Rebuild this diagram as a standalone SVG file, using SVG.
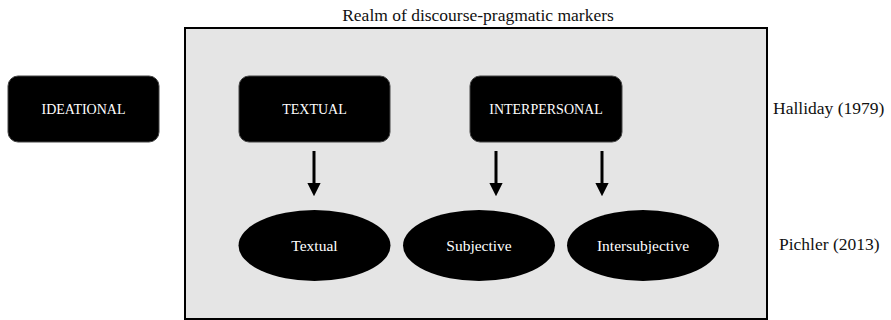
<svg xmlns="http://www.w3.org/2000/svg" width="891" height="320" viewBox="0 0 891 320">
<style>
.box{fill:#000;stroke:#444;stroke-width:1}
.ell{fill:#000}
.bt{font-family:"Liberation Serif",serif;font-size:14px;fill:#fff;text-anchor:middle}
.et{font-family:"Liberation Serif",serif;font-size:15.5px;fill:#fff;text-anchor:middle}
.lab{font-family:"Liberation Serif",serif;font-size:17.5px;fill:#111}
.conn line{stroke:#000;stroke-width:3}
</style>
<defs>
<marker id="ah" markerWidth="4.4" markerHeight="4.4" refX="1" refY="2.2" orient="auto" markerUnits="strokeWidth">
<path d="M0,0 L4.4,2.2 L0,4.4 Z" fill="#000"/>
</marker>
</defs>
<rect width="891" height="320" fill="#fff"/>
<g id="realm">
<rect x="185" y="28" width="582" height="291" fill="#e5e5e5" stroke="#000" stroke-width="2"/>
<text x="478" y="21" class="lab" text-anchor="middle">Realm of discourse-pragmatic markers</text>
</g>
<g id="ideational"><rect class="box" x="8" y="76" width="151" height="66" rx="10"/><text class="bt" x="83.5" y="113.5">IDEATIONAL</text></g>
<g id="textual-box"><rect class="box" x="239" y="76" width="151" height="66" rx="10"/><text class="bt" x="314.5" y="113.5">TEXTUAL</text></g>
<g id="interpersonal"><rect class="box" x="470" y="76" width="152" height="66" rx="10"/><text class="bt" x="546" y="113.5">INTERPERSONAL</text></g>
<g id="textual-ell"><ellipse class="ell" cx="314.5" cy="245.5" rx="76" ry="35.5"/><text class="et" x="314.5" y="251">Textual</text></g>
<g id="subjective"><ellipse class="ell" cx="479" cy="245.5" rx="76" ry="35.5"/><text class="et" x="479" y="251">Subjective</text></g>
<g id="intersubjective"><ellipse class="ell" cx="643" cy="245.5" rx="76" ry="35.5"/><text class="et" x="643" y="251">Intersubjective</text></g>
<g id="halliday"><text class="lab" x="773" y="114">Halliday (1979)</text></g>
<g id="pichler"><text class="lab" x="779" y="250">Pichler (2013)</text></g>
<g class="conn">
<line x1="314" y1="151" x2="314" y2="186" marker-end="url(#ah)"/>
<line x1="496" y1="151" x2="496" y2="186" marker-end="url(#ah)"/>
<line x1="602" y1="151" x2="602" y2="186" marker-end="url(#ah)"/>
</g>
</svg>
